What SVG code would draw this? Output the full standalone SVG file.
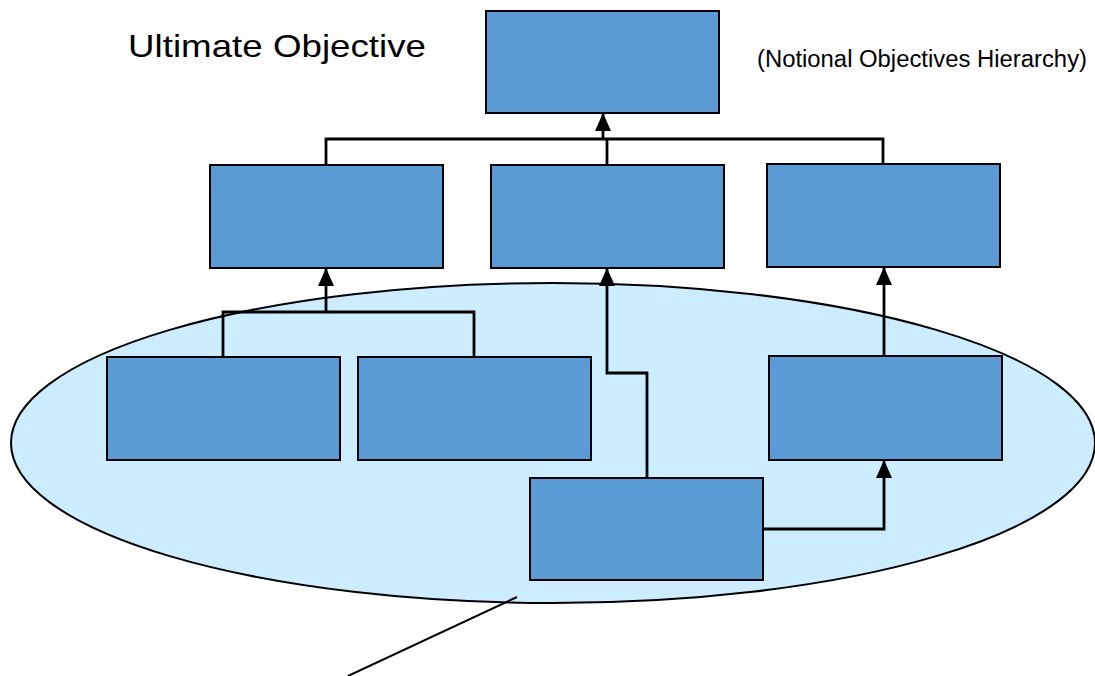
<svg xmlns="http://www.w3.org/2000/svg" width="1095" height="676" viewBox="0 0 1095 676">
  <defs>
    <style>
      .box { fill: #5B9BD5; stroke: #000; stroke-width: 2; }
      .wire { fill: none; stroke: #000; stroke-width: 2.8; stroke-linejoin: miter; }
      .title { font-family: "Liberation Sans", Arial, sans-serif; fill: #000; }
    </style>
    <marker id="arrow" viewBox="0 0 18 16" refX="17" refY="8" markerWidth="18" markerHeight="16" markerUnits="userSpaceOnUse" orient="auto">
      <path d="M0,0 L18,8 L0,16 Z" fill="#000"/>
    </marker>
  </defs>
  <rect width="1095" height="676" fill="#fff"/>

  <!-- scope ellipse -->
  <ellipse id="scope" cx="553" cy="443" rx="542" ry="160" fill="#CCECFF" stroke="#000" stroke-width="2"/>

  <!-- labels -->
  <text class="title" x="128" y="57" font-size="32" textLength="298" lengthAdjust="spacingAndGlyphs">Ultimate Objective</text>
  <text class="title" x="757" y="67" font-size="23" textLength="330" lengthAdjust="spacingAndGlyphs">(Notional Objectives Hierarchy)</text>

  <!-- connectors -->
  <g id="connectors">
    <path class="wire" d="M326,165 V139 H883 V164"/>
    <path class="wire" d="M607,165 V139"/>
    <path class="wire" d="M603,139 V114" marker-end="url(#arrow)"/>
    <path class="wire" d="M223,357 V312 H474 V357"/>
    <path class="wire" d="M326,312 V269" marker-end="url(#arrow)"/>
    <path class="wire" d="M647,478 V373 H607 V269" marker-end="url(#arrow)"/>
    <path class="wire" d="M884,356 V268" marker-end="url(#arrow)"/>
    <path class="wire" d="M763,529 H884 V461" marker-end="url(#arrow)"/>
    <path d="M517,597 L348,676" stroke="#000" stroke-width="2" fill="none"/>
  </g>

  <!-- objective nodes -->
  <g id="n-top"><rect class="box" x="486" y="11" width="233" height="102"/></g>
  <g id="n-l2-left"><rect class="box" x="210" y="165" width="233" height="103"/></g>
  <g id="n-l2-mid"><rect class="box" x="491" y="165" width="233" height="103"/></g>
  <g id="n-l2-right"><rect class="box" x="767" y="164" width="233" height="103"/></g>
  <g id="n-l3-a"><rect class="box" x="107" y="357" width="233" height="103"/></g>
  <g id="n-l3-b"><rect class="box" x="358" y="357" width="233" height="103"/></g>
  <g id="n-l3-c"><rect class="box" x="769" y="356" width="233" height="104"/></g>
  <g id="n-base"><rect class="box" x="530" y="478" width="233" height="102"/></g>
</svg>
